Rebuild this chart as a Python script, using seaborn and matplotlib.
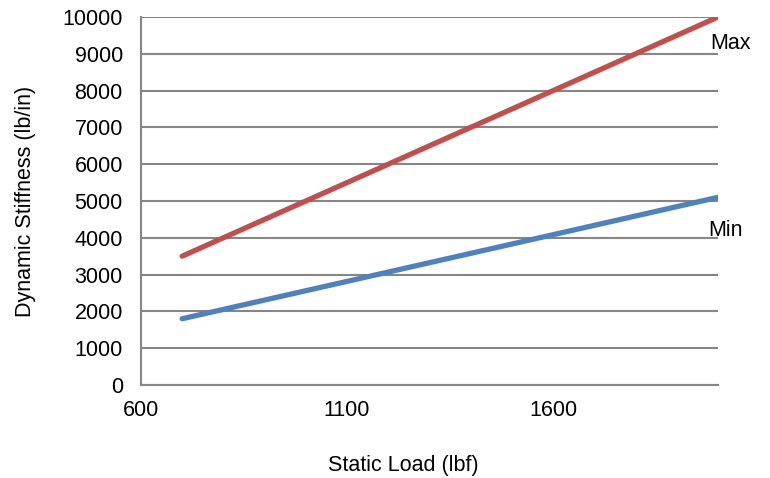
import matplotlib
matplotlib.use("Agg")
import matplotlib.pyplot as plt
import seaborn as sns
import pandas as pd

static_load = [700, 2000]
stiffness_max = [3500, 10000]
stiffness_min = [1800, 5100]
x_ticks = [600, 1100, 1600]
y_ticks = list(range(0, 10001, 1000))

sns.set_style("white")
plt.rcParams["font.family"] = ["Liberation Sans", "DejaVu Sans"]
plt.rcParams["text.color"] = "black"
plt.rcParams["axes.labelcolor"] = "black"

df = pd.DataFrame({
    "load": static_load * 2,
    "stiffness": stiffness_max + stiffness_min,
    "serie": ["Max"] * 2 + ["Min"] * 2,
})

fig = plt.figure(figsize=(7.7, 4.78), dpi=100)
ax = fig.add_axes([0.183, 0.1946, 0.7495, 0.7698])

ax.grid(axis="y", color="#868686", linewidth=1.5)
ax.set_axisbelow(True)

sns.lineplot(
    data=df, x="load", y="stiffness", hue="serie",
    palette={"Max": "#C0504D", "Min": "#4F81BD"},
    linewidth=3.8, legend=False, ax=ax,
    solid_capstyle="round",
)

ax.set_xlim(600, 2000)
ax.set_ylim(0, 10000)
ax.set_xticks(x_ticks)
ax.set_yticks(y_ticks)
ax.tick_params(axis="both", labelsize=15.5, length=4, width=1.5, color="#868686",
               labelcolor="black", direction="out")
ax.tick_params(axis="x", pad=7)
ax.tick_params(axis="y", pad=9)

for side in ["top", "right"]:
    ax.spines[side].set_visible(False)
for side in ["left", "bottom"]:
    ax.spines[side].set_color("#868686")
    ax.spines[side].set_linewidth(1.5)

ax.set_xlabel("Static Load (lbf)", fontsize=15.5)
ax.xaxis.set_label_coords(0.454, -0.19)
ax.set_ylabel("Dynamic Stiffness (lb/in)", fontsize=15.5, labelpad=19)

ax.text(1982, 9270, "Max", fontsize=15.5, ha="left", va="center")
ax.text(1977, 4200, "Min", fontsize=15.5, ha="left", va="center")

fig.savefig("out.png", dpi=100)
